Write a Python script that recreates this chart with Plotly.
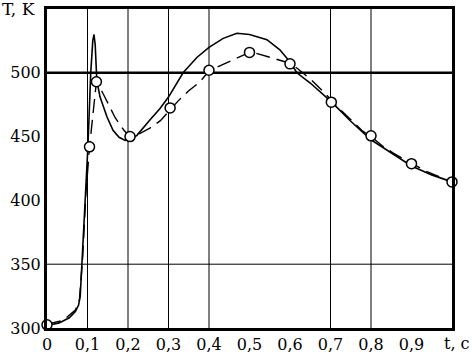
import plotly.graph_objects as go

# Solid curve
t_solid = [0, 0.03, 0.055, 0.07, 0.078, 0.082, 0.086, 0.094, 0.101, 0.108, 0.113, 0.116, 0.119,
           0.123, 0.131, 0.148, 0.163, 0.178, 0.193, 0.207, 0.222, 0.254, 0.279, 0.3, 0.336, 0.37,
           0.4, 0.435, 0.469, 0.5, 0.543, 0.575, 0.6, 0.617, 0.65, 0.703, 0.75, 0.8, 0.85, 0.9,
           0.95, 1.0]
T_solid = [302, 304, 308, 313, 318, 325, 349, 398, 442, 500, 525, 530, 522,
           494, 481, 465.5, 455, 449.5, 447, 448, 451, 463, 472, 481, 500, 512,
           520, 527, 531, 530, 526, 518, 508.5, 500, 492, 477, 462, 447.5, 437, 427,
           420, 414.5]

# Dashed curve
t_dash = [0, 0.04, 0.07, 0.08, 0.088, 0.096, 0.105, 0.122, 0.138, 0.168, 0.19, 0.205, 0.23,
          0.254, 0.28, 0.304, 0.324, 0.35, 0.378, 0.4, 0.457, 0.5, 0.509, 0.546, 0.575, 0.6,
          0.62, 0.654, 0.686, 0.703, 0.723, 0.756, 0.777, 0.8, 0.827, 0.855, 0.889, 0.9, 0.938,
          0.988, 1.0]
T_dash = [303, 306, 314, 322, 355, 405, 442, 493, 484, 465, 455, 450, 452.5,
          456.6, 462.5, 471, 478, 486, 493, 501.6, 510, 516, 516, 512.5, 510, 507.5,
          503, 494, 484, 478, 471.5, 461.5, 455, 450, 443, 437, 431, 429, 422.5,
          416, 414.5]

# Circle markers
t_pts = [0, 0.105, 0.122, 0.205, 0.304, 0.4, 0.5, 0.6, 0.702, 0.8, 0.9, 1.0]
T_pts = [302.5, 442, 493, 450, 472.5, 502, 516, 507, 477, 450.6, 428.8, 414.5]

x_ticks = [0, 0.1, 0.2, 0.3, 0.4, 0.5, 0.6, 0.7, 0.8, 0.9]
x_tick_text = ["0", "0,1", "0,2", "0,3", "0,4", "0,5", "0,6", "0,7", "0,8", "0,9"]
y_ticks = [300, 350, 400, 450, 500]
x_grid = [0.1, 0.2, 0.3, 0.4, 0.7, 0.8]
y_grid_thin = [350]
y_grid_thick = [500]

FONT = "'DejaVu Serif', serif"
FS = 16

fig = go.Figure()
fig.add_trace(go.Scatter(x=t_solid, y=T_solid, mode="lines",
                         line=dict(color="black", width=1.6), cliponaxis=False))
fig.add_trace(go.Scatter(x=t_dash, y=T_dash, mode="lines",
                         line=dict(color="black", width=1.4, dash="14px,7px"), cliponaxis=False))
fig.add_trace(go.Scatter(x=t_pts, y=T_pts, mode="markers", cliponaxis=False,
                         marker=dict(size=10, color="white", line=dict(color="black", width=1.5))))

shapes = []
for g in x_grid:
    shapes.append(dict(type="line", xref="x", yref="paper", x0=g, x1=g, y0=0, y1=1,
                       line=dict(color="black", width=1), layer="below"))
for g in y_grid_thin:
    shapes.append(dict(type="line", xref="paper", yref="y", x0=0, x1=1, y0=g, y1=g,
                       line=dict(color="black", width=1), layer="below"))
for g in y_grid_thick:
    shapes.append(dict(type="line", xref="paper", yref="y", x0=0, x1=1, y0=g, y1=g,
                       line=dict(color="black", width=2.5), layer="below"))

fig.update_layout(
    width=473, height=355,
    margin=dict(l=47, r=21, t=9, b=27),
    paper_bgcolor="white", plot_bgcolor="white",
    showlegend=False,
    font=dict(family=FONT, size=FS, color="black"),
    shapes=shapes,
    xaxis=dict(range=[0, 1], tickvals=x_ticks, ticktext=x_tick_text, showgrid=False,
               zeroline=False, showline=True, linecolor="black", linewidth=3, mirror=True,
               ticks="", automargin=False,
               tickfont=dict(family=FONT, size=FS, color="black")),
    yaxis=dict(range=[300, 550], tickvals=y_ticks, showgrid=False, zeroline=False,
               showline=True, linecolor="black", linewidth=3, mirror=True,
               ticks="", automargin=False,
               tickfont=dict(family=FONT, size=FS, color="black")),
    annotations=[
        dict(text="T, K", xref="paper", yref="paper", x=-47/405, y=1 + 9/319 + 0.01,
             xanchor="left", yanchor="top", showarrow=False,
             font=dict(family=FONT, size=FS + 1, color="black")),
        dict(text="t, c", xref="paper", yref="paper", x=(472 - 47)/405, y=-15/319,
             xanchor="right", yanchor="middle", showarrow=False,
             font=dict(family=FONT, size=FS, color="black")),
    ],
)

fig.write_html("out.html", config={"displayModeBar": False},
               post_script="document.body.style.margin='0px';")
